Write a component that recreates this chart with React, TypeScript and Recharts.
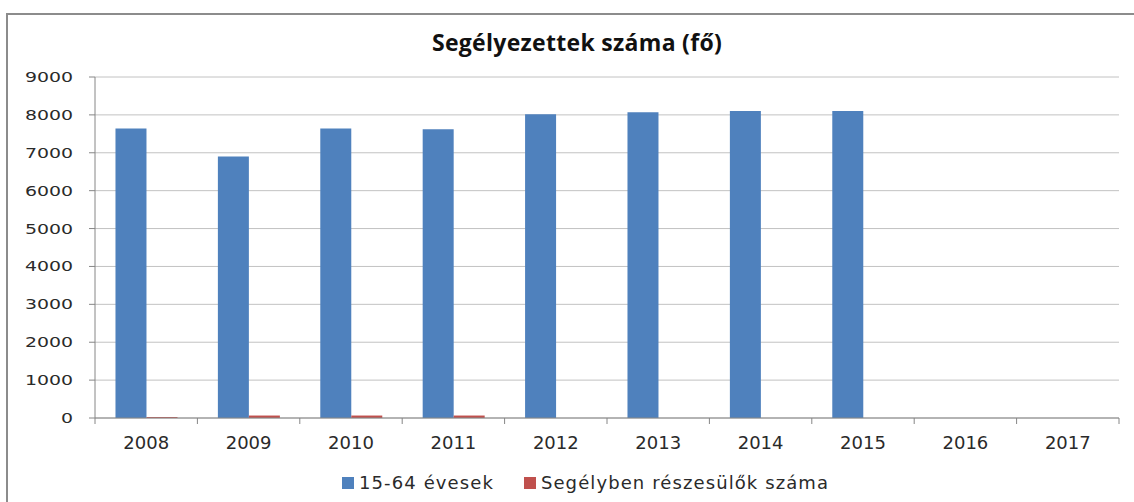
import { BarChart, Bar, XAxis, YAxis, CartesianGrid, Legend } from 'recharts';

const years = ['2008', '2009', '2010', '2011', '2012', '2013', '2014', '2015', '2016', '2017'];
const activeAge = [7640, 6900, 7640, 7620, 8020, 8070, 8100, 8100, null, null];
const aided = [25, 65, 65, 65, null, null, null, null, null, null];
const yTicks = [0, 1000, 2000, 3000, 4000, 5000, 6000, 7000, 8000, 9000];

const data = years.map((year, i) => ({
  year,
  active: activeAge[i],
  aided: aided[i],
}));

const W = 1134;
const H = 502;
const margin = { top: 77, right: 15, left: 25, bottom: 54 };
const band = (W - margin.left - 70 - margin.right) / years.length;

const axisColor = '#868686';
const tickFont = '"DejaVu Sans", Verdana, sans-serif';

const XTick = (props: any) => {
  const { x, y, payload, index } = props;
  return (
    <g>
      <line x1={x - band / 2} y1={y} x2={x - band / 2} y2={y + 6} stroke={axisColor} />
      {index === years.length - 1 && (
        <line x1={x + band / 2} y1={y} x2={x + band / 2} y2={y + 6} stroke={axisColor} />
      )}
      <text x={x} y={y + 31} textAnchor="middle" fontFamily={tickFont} fontSize={18} fill="#2a2a2a">
        {payload.value}
      </text>
    </g>
  );
};

const YTick = (props: any) => {
  const { x, y, payload } = props;
  return (
    <g transform={`translate(${x},${y})`}>
      <text transform="scale(1.4,1)" textAnchor="end" dy={5} fontFamily={tickFont} fontSize={13.5} fill="#2a2a2a">
        {payload.value}
      </text>
    </g>
  );
};

// legend drawn from the series payload, spaced like the original
const LegendContent = (props: any) => {
  const items = props.payload || [];
  return (
    <div style={{ display: 'flex', alignItems: 'center', fontFamily: tickFont, fontSize: 18, color: '#2a2a2a' }}>
      {items.map((item: any, i: number) => (
        <div key={i} style={{ display: 'flex', alignItems: 'center', marginRight: 30 }}>
          <span style={{ display: 'inline-block', width: 12, height: 12, background: item.color, marginRight: 5 }} />
          <span style={{ letterSpacing: 1.1 }}>{item.value}</span>
        </div>
      ))}
    </div>
  );
};

export default function App() {
  return (
    <div style={{ position: 'absolute', left: 0, top: 0, width: W, height: H, background: '#fff', overflow: 'hidden' }}>
      <div
        style={{
          position: 'absolute',
          left: 6,
          top: 13,
          width: W,
          height: H,
          borderTop: '2px solid #8c8c8c',
          borderLeft: '2px solid #8c8c8c',
        }}
      />
      <div
        style={{
          position: 'absolute',
          left: 0,
          top: 26,
          width: 1154,
          textAlign: 'center',
          fontFamily: '"Open Sans", sans-serif',
          fontWeight: 700,
          fontSize: 23,
          letterSpacing: 0.3,
          color: '#111',
        }}
      >
        Segélyezettek száma (fő)
      </div>
      <BarChart width={W} height={H} data={data} margin={margin} barCategoryGap="20%" barGap={0}>
        <CartesianGrid vertical={false} stroke="#c2c2c2" />
        <XAxis
          dataKey="year"
          stroke={axisColor}
          tickLine={false}
          tickSize={0}
          tickMargin={0}
          height={30}
          tick={<XTick />}
          interval={0}
        />
        <YAxis
          domain={[0, 9000]}
          ticks={yTicks}
          width={70}
          stroke={axisColor}
          tickSize={6}
          tickMargin={16}
          tick={<YTick />}
          interval={0}
        />
        <Legend
          layout="horizontal"
          verticalAlign="middle"
          align="center"
          content={<LegendContent />}
          wrapperStyle={{ top: 472, left: 342, width: 760 }}
        />
        <Bar dataKey="active" name="15-64 évesek" fill="#4f81bd" isAnimationActive={false} />
        <Bar dataKey="aided" name="Segélyben részesülők száma" fill="#c0504d" isAnimationActive={false} />
      </BarChart>
    </div>
  );
}
